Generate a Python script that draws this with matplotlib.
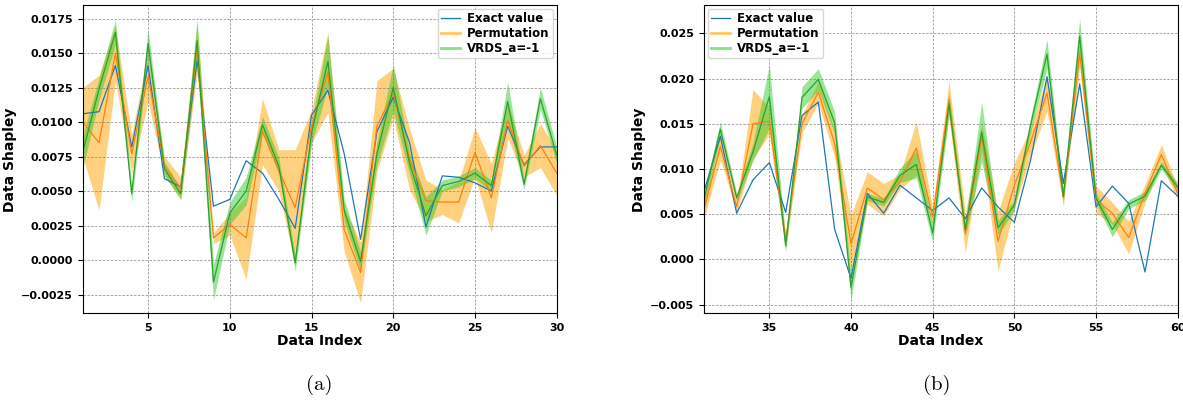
#coding:utf-8
import numpy as np
import matplotlib
matplotlib.use('Agg')
import matplotlib.pyplot as plt
from matplotlib.lines import Line2D
from matplotlib.ticker import MultipleLocator

# (a) data index 1..30
idx_a = np.arange(1, 31)
exact_a = [0.0106, 0.01075, 0.0141, 0.0082, 0.0141, 0.0059, 0.0053, 0.0145, 0.0039, 0.0044,
           0.0072, 0.0063, 0.0044, 0.0023, 0.0105, 0.0123, 0.0077, 0.0015, 0.0093, 0.0118,
           0.0085, 0.0024, 0.0061, 0.0060, 0.0056, 0.0050, 0.0097, 0.0069, 0.0082, 0.0082]
perm_a = [0.0100, 0.0085, 0.0150, 0.0077, 0.0133, 0.0068, 0.0052, 0.0153, 0.0016, 0.0026,
          0.0016, 0.0093, 0.0065, 0.0038, 0.0097, 0.0136, 0.0022, -0.0009, 0.0097, 0.0121,
          0.0073, 0.0043, 0.0042, 0.0042, 0.0078, 0.0045, 0.0101, 0.0068, 0.0083, 0.0063]
perm_std_a = [0.0025, 0.0049, 0.0020, 0.0014, 0.0018, 0.0007, 0.0008, 0.0018, 0.0004, 0.0008,
              0.0030, 0.0024, 0.0015, 0.0042, 0.0012, 0.0029, 0.0016, 0.0022, 0.0033, 0.0018,
              0.0022, 0.0015, 0.0009, 0.0015, 0.0018, 0.0025, 0.0013, 0.0008, 0.0016, 0.0016]
vrds_a = [0.0078, 0.0124, 0.0165, 0.0048, 0.0157, 0.0066, 0.0048, 0.0159, -0.0016, 0.0034,
          0.0050, 0.0098, 0.0068, -0.0002, 0.0092, 0.0144, 0.0036, -0.0001, 0.0077, 0.0125,
          0.0070, 0.0032, 0.0054, 0.0057, 0.0063, 0.0054, 0.0115, 0.0055, 0.0117, 0.0076]
vrds_std_a = [0.0012, 0.0008, 0.0009, 0.0006, 0.0010, 0.0005, 0.0004, 0.0016, 0.0013, 0.0008,
              0.0010, 0.0006, 0.0006, 0.0006, 0.0008, 0.0019, 0.0008, 0.0007, 0.0008, 0.0017,
              0.0008, 0.0014, 0.0004, 0.0004, 0.0004, 0.0004, 0.0014, 0.0004, 0.0008, 0.0006]

# (b) data index 31..60
idx_b = np.arange(31, 61)
exact_b = [0.0075, 0.0136, 0.0051, 0.0088, 0.0107, 0.0052, 0.0159, 0.0174, 0.0033, -0.0021,
           0.0073, 0.0051, 0.0082, 0.0068, 0.0054, 0.0068, 0.0045, 0.0079, 0.0058, 0.0041,
           0.0110, 0.0202, 0.0084, 0.0194, 0.0058, 0.0081, 0.0062, -0.0014, 0.0087, 0.0070]
perm_b = [0.0055, 0.0125, 0.0058, 0.0150, 0.0153, 0.0021, 0.0150, 0.0185, 0.0128, 0.0017,
          0.0079, 0.0066, 0.0086, 0.0123, 0.0047, 0.0177, 0.0029, 0.0136, 0.0020, 0.0082,
          0.0130, 0.0184, 0.0069, 0.0228, 0.0066, 0.0051, 0.0024, 0.0073, 0.0116, 0.0073]
perm_std_b = [0.0010, 0.0015, 0.0005, 0.0038, 0.0015, 0.0008, 0.0010, 0.0012, 0.0015, 0.0032,
              0.0018, 0.0018, 0.0008, 0.0030, 0.0010, 0.0020, 0.0022, 0.0015, 0.0033, 0.0025,
              0.0015, 0.0020, 0.0010, 0.0015, 0.0015, 0.0012, 0.0018, 0.0010, 0.0011, 0.0007]
vrds_b = [0.0066, 0.0144, 0.0068, 0.0119, 0.0180, 0.0015, 0.0179, 0.0199, 0.0151, -0.0031,
          0.0069, 0.0063, 0.0093, 0.0105, 0.0029, 0.0172, 0.0033, 0.0141, 0.0035, 0.0060,
          0.0149, 0.0227, 0.0069, 0.0247, 0.0068, 0.0033, 0.0061, 0.0070, 0.0104, 0.0080]
vrds_std_b = [0.0008, 0.0008, 0.0005, 0.0010, 0.0035, 0.0007, 0.0012, 0.0012, 0.0012, 0.0014,
              0.0004, 0.0004, 0.0008, 0.0015, 0.0010, 0.0012, 0.0008, 0.0033, 0.0008, 0.0006,
              0.0008, 0.0016, 0.0006, 0.0019, 0.0006, 0.0008, 0.0005, 0.0005, 0.0004, 0.0005]

labels = ['Exact value', 'Permutation', 'VRDS_a=-1']


def DrawPanel(ax, x, exact, perm, perm_std, vrds, vrds_std, ylim, ystep, legloc):
    perm = np.array(perm)
    perm_std = np.array(perm_std)
    vrds = np.array(vrds)
    vrds_std = np.array(vrds_std)

    # 置信带
    ax.fill_between(x, perm - perm_std, perm + perm_std, color='orange', alpha=0.5, lw=0)
    ax.fill_between(x, vrds - vrds_std, vrds + vrds_std, color='limegreen', alpha=0.5, lw=0)
    ax.plot(x, exact, '-', color='tab:blue', lw=0.9)
    ax.plot(x, perm, '-', color='tab:orange', lw=0.9)
    ax.plot(x, vrds, '-', color='tab:green', lw=0.9)

    ax.set_xlim(x[0], x[-1])
    ax.set_ylim(*ylim)
    ax.xaxis.set_major_locator(MultipleLocator(5))
    ax.yaxis.set_major_locator(MultipleLocator(ystep))
    ax.grid(True, ls=(0, (2.5, 1.5)), color='gray', lw=0.7, alpha=0.7)

    for lab in ax.get_xticklabels() + ax.get_yticklabels():
        lab.set_fontweight('bold')
    ax.tick_params(labelsize=8)
    ax.set_xlabel('Data Index', fontsize=10, fontweight='bold', labelpad=1)
    ax.set_ylabel('Data Shapley', fontsize=10, fontweight='bold', labelpad=3)

    handles = [Line2D([], [], color='tab:blue', lw=0.9),
               Line2D([], [], color='orange', alpha=0.6, lw=2),
               Line2D([], [], color='limegreen', alpha=0.6, lw=2)]
    ax.legend(handles, labels, loc=legloc, prop={'weight': 'bold', 'size': 8.5},
              handlelength=1.6, borderpad=0.3, labelspacing=0.15, handletextpad=0.6,
              borderaxespad=0.3)


fig = plt.figure(figsize=(11.83, 4.08), dpi=100)
ax1 = fig.add_axes([0.0699, 0.232, 0.4007, 0.755])
ax2 = fig.add_axes([0.5951, 0.232, 0.4004, 0.755])

DrawPanel(ax1, idx_a, exact_a, perm_a, perm_std_a, vrds_a, vrds_std_a,
          (-0.00386, 0.01846), 0.0025, 'upper right')
DrawPanel(ax2, idx_b, exact_b, perm_b, perm_std_b, vrds_b, vrds_std_b,
          (-0.00597, 0.0281), 0.005, 'upper left')

fig.text(0.27, 0.045, '(a)', fontsize=15, family='cmr10', ha='center')
fig.text(0.792, 0.045, '(b)', fontsize=15, family='cmr10', ha='center')

plt.savefig('out.png', dpi=100)
